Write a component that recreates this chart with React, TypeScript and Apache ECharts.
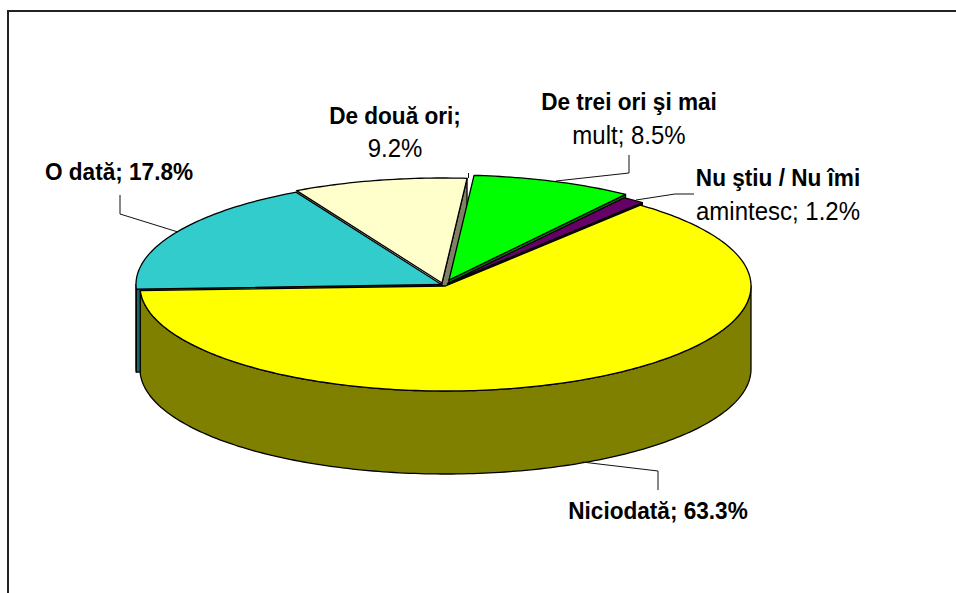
import React, { useEffect, useRef } from "react";
import * as echarts from "echarts";

const categories = ["O dată", "De două ori", "De trei ori şi mai mult", "Nu ştiu / Nu îmi amintesc", "Niciodată"];
const shares = [17.8, 9.2, 8.5, 1.2, 63.3];
const boldLines = ["O dată; 17.8%", "De două ori;", "De trei ori şi mai", "Nu ştiu / Nu îmi", "Niciodată; 63.3%"];
const regularLines = ["", "9.2%", "mult; 8.5%", "amintesc; 1.2%", ""];

const topColors = ["#33CCCC", "#FFFFCC", "#00FF00", "#660066", "#FFFF00"];
const wallColors = ["#1A6666", "#808066", "#008000", "#330033", "#808000"];
const sliceOffsets = [[-4, -1.5], [-3.5, -3], [3.5, -6], [2, -2.5], [0, 0]];
const labelAnchors = [[119, 172], [395, 132], [629, 118.5], [778, 194.5], [658, 511]];
const leaders = [
  [[120, 195], [120, 214], [178, 232]],
  [[468.5, 173], [468.5, 178]],
  [[629, 155], [629, 173], [556, 181]],
  [[694, 194], [675, 194], [636, 200]],
  [[658, 490], [658, 471], [582, 462]],
];

const CX = 445.5, CY = 286, RX = 305.5, RY = 105, DEPTH = 83, START_DEG = 182.5;

function renderSlice(_params: any, api: any) {
  const i = api.value(0);
  const share = api.value(1);
  let before = 0;
  for (let k = 0; k < i; k++) before += shares[k];
  const a0 = START_DEG - (before / 100) * 360;
  const a1 = a0 - (share / 100) * 360;
  const [ox, oy] = sliceOffsets[i];
  const cx = CX + ox, cy = CY + oy;
  const pt = (deg: number, drop = 0) => {
    const r = (deg * Math.PI) / 180;
    return [cx + RX * Math.cos(r), cy - RY * Math.sin(r) + drop];
  };
  const line = { stroke: "#000", lineWidth: 1.3, lineJoin: "round" };
  const children: any[] = [];
  const arc: number[][] = [];
  const steps = Math.max(4, Math.ceil(a0 - a1));
  for (let s = 0; s <= steps; s++) arc.push(pt(a0 + ((a1 - a0) * s) / steps));
  const wall = { fill: wallColors[i], ...line };
  const cutFace = (a: number) => ({
    type: "polygon",
    shape: { points: [[cx, cy], pt(a), pt(a, DEPTH), [cx, cy + DEPTH]] },
    style: wall,
  });
  // radial cut faces that turn toward the viewer
  if (Math.cos((a1 * Math.PI) / 180) > 0) children.push(cutFace(a1));
  if (a0 > 180) children.push(cutFace(a0));
  // outer wall: only the part of the arc facing the viewer
  const ranges: number[][] = [];
  const lo = Math.max(a1, -180), hi = Math.min(a0, 0);
  if (hi > lo) ranges.push([hi, lo]);
  const lo2 = Math.max(a1, 180), hi2 = a0;
  if (hi2 > lo2) ranges.push([hi2, lo2]);
  ranges.forEach(([h, l]) => {
    const top: number[][] = [];
    const bottom: number[][] = [];
    const n = Math.max(2, Math.ceil(h - l));
    for (let s = 0; s <= n; s++) {
      const a = h + ((l - h) * s) / n;
      top.push(pt(a));
      bottom.unshift(pt(a, DEPTH));
    }
    children.push({ type: "polygon", shape: { points: [...top, ...bottom] }, style: wall });
  });
  children.push({
    type: "polygon",
    shape: { points: [[cx, cy], ...arc] },
    style: { fill: topColors[i], ...line },
  });
  return { type: "group", children };
}

export default function App() {
  const ref = useRef<HTMLDivElement>(null);
  useEffect(() => {
    document.body.style.margin = "0";
    const chart = echarts.init(ref.current!, undefined, { renderer: "svg" });
    const texts = categories.map((name, i) => {
      const [x, y] = labelAnchors[i];
      const t = regularLines[i] ? `{b|${boldLines[i]}}\n{r|${regularLines[i]}}` : `{b|${boldLines[i]}}`;
      return {
        type: "text",
        id: name,
        x,
        y,
        scaleY: 1.07,
        silent: true,
        style: {
          text: t,
          align: "center",
          verticalAlign: "middle",
          rich: {
            b: { fontFamily: "Liberation Sans", fontSize: 22.6, fontWeight: "bold", fill: "#000", lineHeight: 31, align: "center" },
            r: { fontFamily: "Liberation Sans", fontSize: 24, fontWeight: "normal", fill: "#000", lineHeight: 31, align: "center" },
          },
        },
        z: 10,
      };
    });
    const leaderLines = leaders.map((points) => ({
      type: "polyline",
      silent: true,
      shape: { points },
      style: { fill: "none", stroke: "#111", lineWidth: 1 },
      z: 9,
    }));
    chart.setOption({
      animation: false,
      backgroundColor: "#fff",
      graphic: {
        elements: [
          {
            type: "polyline",
            silent: true,
            shape: { points: [[8, 593], [8, 11], [956, 11]] },
            style: { fill: "none", stroke: "#222", lineWidth: 2 },
            z: 0,
          },
          ...leaderLines,
          ...texts,
        ],
      },
      series: [
        {
          type: "custom",
          coordinateSystem: "none",
          renderItem: renderSlice,
          data: shares.map((v, i) => ({ name: categories[i], value: [i, v] })),
          silent: true,
          z: 5,
        },
      ],
    });
    return () => chart.dispose();
  }, []);
  return <div ref={ref} style={{ position: "fixed", left: 0, top: 0, width: 956, height: 593 }} />;
}
